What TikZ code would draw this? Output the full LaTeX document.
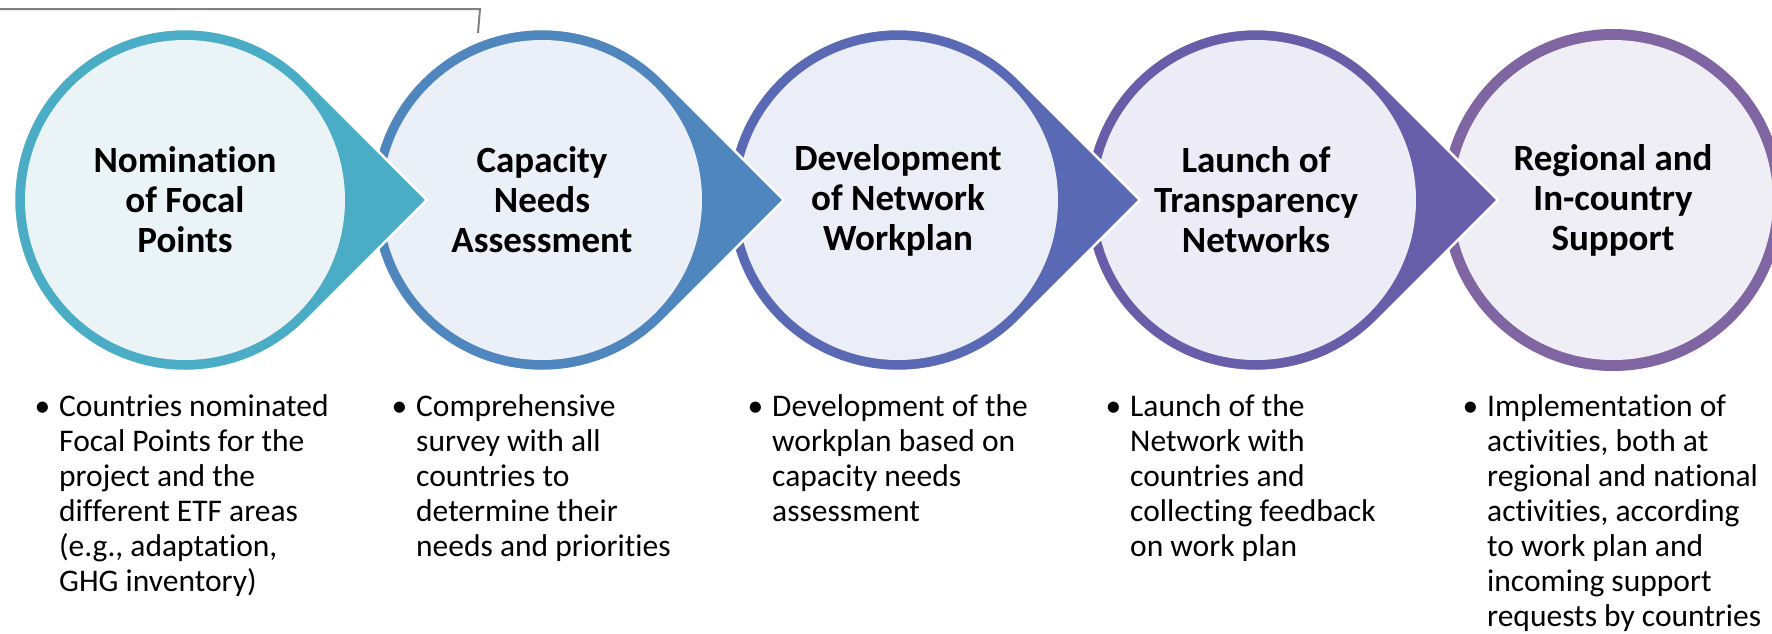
\documentclass[tikz,border=0pt]{standalone}
\usepackage{fontspec}
\setmainfont[Ligatures=NoCommon]{Carlito}
\usepackage{tikz}
\usetikzlibrary{calc}
\definecolor{stepA}{HTML}{4BACC6}
\definecolor{stepB}{HTML}{4F86BE}
\definecolor{stepC}{HTML}{5A69B3}
\definecolor{stepD}{HTML}{685DA9}
\definecolor{stepE}{HTML}{8065A3}
\definecolor{tintA}{HTML}{EAF4F7}
\definecolor{tintB}{HTML}{EBF0F8}
\definecolor{tintC}{HTML}{EBEDF7}
\definecolor{tintD}{HTML}{EDEBF5}
\definecolor{tintE}{HTML}{F0EEF5}
\def\droplet[#1](#2){\draw[#1] ($(#2)+(45:171)$) arc (45:315:171) -- ($(#2)+(241.8,0)$) -- cycle;}
\def\stepbullet{\leavevmode\llap{\textbullet\hspace{9pt}}}
\tikzset{
  steptitle/.style={font=\fontsize{37}{40}\selectfont\bfseries, align=center, inner sep=0pt},
  steptext/.style={anchor=base west, inner sep=0pt, font=\fontsize{31.5}{35}\selectfont},
}

\begin{document}
\begin{tikzpicture}[x=1pt, y=-1pt]
		%%%%% START %%%%%
		\useasboundingbox (0, 0) rectangle (1772, 633);
		
		\coordinate (c1) at (185, 200);
		\coordinate (c2) at (542, 200);
		\coordinate (c3) at (898, 200);
		\coordinate (c4) at (1256, 200);
		\coordinate (c5) at (1613, 200);
		
		\draw[line width=2pt, color=black!50] (0, 9) -- (480, 9) -- (478, 33);
		
		\fill[stepE] (c5) circle (171);
		\fill[tintE] (c5) circle (160);
		
		\droplet[fill=stepD, draw=white, line width=2.5pt](c4);
		\fill[tintD] (c4) circle (160);
		
		\droplet[fill=stepC, draw=white, line width=2.5pt](c3);
		\fill[tintC] (c3) circle (160);
		
		\droplet[fill=stepB, draw=white, line width=2.5pt](c2);
		\fill[tintB] (c2) circle (160);
		
		\droplet[fill=stepA, draw=white, line width=2.5pt](c1);
		\fill[tintA] (c1) circle (160);
		
		\node[steptitle] (t1) at (c1) {Nomination\\of Focal\\Points};
		\node[steptitle] (t2) at (c2) {Capacity\\Needs\\Assessment};
		\node[steptitle] (t3) at (c3) {Development\\of Network\\Workplan};
		\node[steptitle] (t4) at (c4) {Launch of\\Transparency\\Networks};
		\node[steptitle] (t5) at (c5) {Regional and\\In-country\\Support};
		
		\node[steptext] (b1) at (59, 416) {\parbox[t]{320pt}{\raggedright\stepbullet Countries nominated\\Focal Points for the\\project and the\\different ETF areas\\(e.g., adaptation,\\GHG inventory)}};
		\node[steptext] (b2) at (416, 416) {\parbox[t]{320pt}{\raggedright\stepbullet Comprehensive\\survey with all\\countries to\\determine their\\needs and priorities}};
		\node[steptext] (b3) at (772, 416) {\parbox[t]{320pt}{\raggedright\stepbullet Development of the\\workplan based on\\capacity needs\\assessment}};
		\node[steptext] (b4) at (1130, 416) {\parbox[t]{320pt}{\raggedright\stepbullet Launch of the\\Network with\\countries and\\collecting feedback\\on work plan}};
		\node[steptext] (b5) at (1487, 416) {\parbox[t]{320pt}{\raggedright\stepbullet Implementation of\\activities, both at\\regional and national\\activities, according\\to work plan and\\incoming support\\requests by countries}};
		
		%%%%% END %%%%%
	\end{tikzpicture}
\end{document}
